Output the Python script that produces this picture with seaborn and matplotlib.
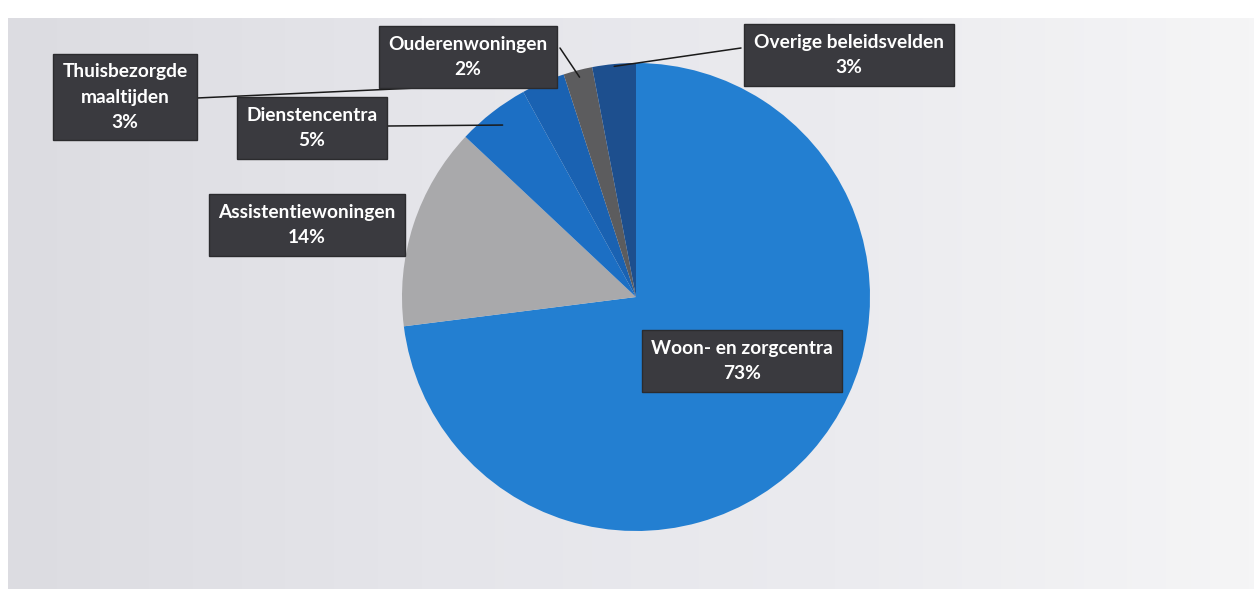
import numpy as np
import matplotlib
matplotlib.use("Agg")
import matplotlib.pyplot as plt
import seaborn as sns

# data
labels = ["Woon- en zorgcentra", "Assistentiewoningen", "Dienstencentra",
          "Thuisbezorgde\nmaaltijden", "Ouderenwoningen", "Overige beleidsvelden"]
shares = [73, 14, 5, 3, 2, 3]
colors = ["#237fd1", "#a9a9ab", "#1c6fc4", "#1a62b2", "#5c5c5e", "#1d4f8e"]

sns.set_style("white")
plt.rcParams['font.family'] = ['Lato', 'DejaVu Sans']

fig = plt.figure(figsize=(12.54, 5.89), dpi=100)
fig.patch.set_facecolor("white")
ax = fig.add_axes([0, 0, 1, 1])

# scanned grey backdrop, a bit lighter on the right
grad = np.linspace(0, 1, 256)
grad = np.vstack([grad, grad])
bg = matplotlib.colors.LinearSegmentedColormap.from_list(
    "bg", ["#dcdce1", "#e5e5ea", "#ebebef", "#f5f5f6"])
ax.imshow(grad, cmap=bg, extent=(8, 1254, 589, 18), aspect="auto", zorder=0)

cx, cy, r = 636, 297, 234
# y axis runs downwards, so start at -90 and go counter-clockwise in data terms
wedges, _ = ax.pie(shares, colors=colors, startangle=-90, counterclock=True,
                   center=(cx, cy), radius=r, frame=True,
                   wedgeprops=dict(linewidth=0))
ax.set_xlim(0, 1254)
ax.set_ylim(589, 0)
ax.set_aspect("equal")
ax.axis("off")

# label box centres and where the leader line leaves the box
box_pos = [(742, 361), (307, 225), (312, 128), (125, 97), (468, 57), (849, 55)]
line_start = [None, None, (388, 126), (197, 98), (560, 48), (741, 48)]
line_end_r = [None, None, 0.93, 1.0, 0.97, 0.99]

for i, w in enumerate(wedges):
    txt = f"{labels[i]}\n{shares[i]}%"
    ax.text(box_pos[i][0], box_pos[i][1], txt, ha="center", va="center",
            color="white", fontsize=13.8, fontweight="bold", linespacing=1.6,
            zorder=5,
            bbox=dict(boxstyle="square,pad=0.5", fc="#3a3a3f", ec="#2b2b2e", lw=1))
    if line_start[i] is not None:
        ang = np.deg2rad((w.theta1 + w.theta2) / 2)
        ex = cx + r * line_end_r[i] * np.cos(ang)
        ey = cy + r * line_end_r[i] * np.sin(ang)
        ax.plot([line_start[i][0], ex], [line_start[i][1], ey],
                color="#1a1a1a", lw=1.1, zorder=4)

fig.savefig("out.png", dpi=100, facecolor=fig.get_facecolor())
